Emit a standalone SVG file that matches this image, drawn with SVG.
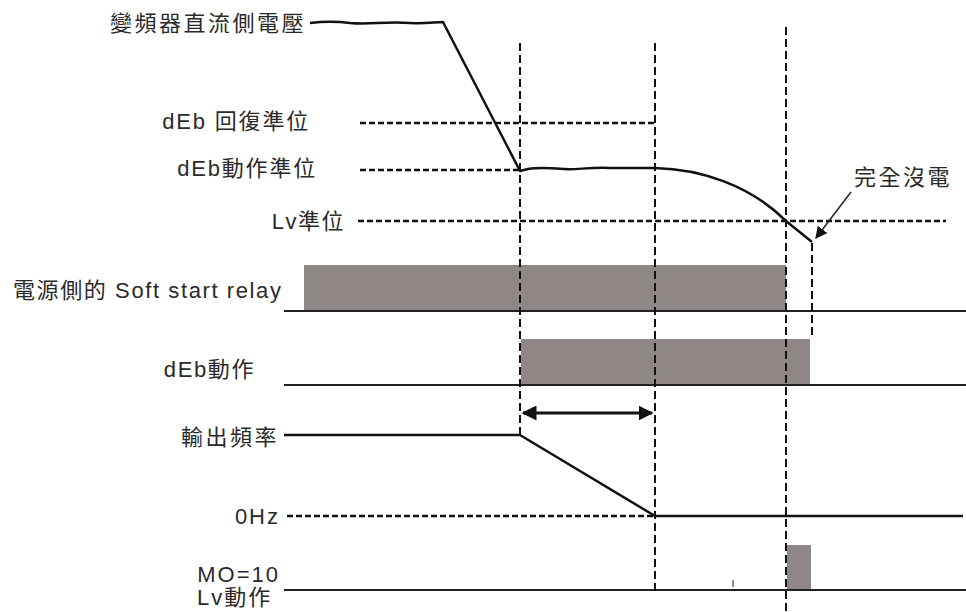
<svg xmlns="http://www.w3.org/2000/svg" width="966" height="612" viewBox="0 0 966 612">
<defs>
<style>
.t{font-family:"Liberation Sans","Noto Sans CJK TC",sans-serif;font-size:22px;fill:#2a2a2a;}
.e{text-anchor:end;}
.s{fill:none;stroke:#111;stroke-width:2.5;stroke-linejoin:round;}
.b{fill:none;stroke:#222;stroke-width:2;}
.hd{fill:none;stroke:#111;stroke-width:2.5;stroke-dasharray:6 3;}
.vd{fill:none;stroke:#111;stroke-width:2;stroke-dasharray:8 4;}
.g{fill:#8f8786;}
</style>
<marker id="ah" viewBox="0 0 10 10" refX="9" refY="5" markerWidth="5" markerHeight="5" orient="auto-start-reverse" markerUnits="strokeWidth">
<path d="M0,0 L10,5 L0,10 z" fill="#111"/>
</marker>
<marker id="ah2" viewBox="0 0 10 10" refX="9" refY="5" markerWidth="8" markerHeight="8" orient="auto" markerUnits="strokeWidth">
<path d="M0,0 L10,5 L0,10 z" fill="#111"/>
</marker>
</defs>
<rect width="966" height="612" fill="#fff"/>

<g id="labels">
<text class="t e" x="306" y="31" letter-spacing="2.5">變頻器直流側電壓</text>
<text class="t e" x="310" y="129" letter-spacing="1.8">dEb 回復準位</text>
<text class="t e" x="317" y="176" letter-spacing="1.8">dEb動作準位</text>
<text class="t e" x="345" y="229" letter-spacing="1.5">Lv準位</text>
<text class="t" x="13" y="298" letter-spacing="1.6">電源側的 Soft start relay</text>
<text class="t e" x="255" y="377" letter-spacing="1.6">dEb動作</text>
<text class="t e" x="279" y="445" letter-spacing="2.5">輸出頻率</text>
<text class="t e" x="280" y="524" letter-spacing="2">0Hz</text>
<text class="t e" x="280" y="582" letter-spacing="2">MO=10</text>
<text class="t" x="197" y="605" letter-spacing="2">Lv動作</text>
<text class="t" x="854" y="185" letter-spacing="2.5">完全沒電</text>
</g>

<g id="bars">
<rect class="g" x="304" y="265" width="482" height="46"/>
<rect class="g" x="521" y="339" width="289" height="46"/>
<rect class="g" x="787" y="545" width="24" height="45"/>
</g>

<g id="baselines">
<line class="b" x1="284" y1="311" x2="966" y2="311" stroke-width="1.5"/>
<line class="b" x1="284" y1="385" x2="966" y2="385"/>
<line class="b" x1="284" y1="590" x2="966" y2="590"/>
<line x1="733" y1="580" x2="733" y2="587" stroke="#444" stroke-width="1.2"/>
</g>

<g id="dashed">
<line class="hd" x1="360" y1="123" x2="655" y2="123"/>
<line class="hd" x1="360" y1="170" x2="520" y2="170"/>
<line class="hd" x1="358" y1="221" x2="946" y2="221"/>
<line class="hd" x1="287" y1="516" x2="655" y2="516"/>
<line class="vd" x1="520" y1="43" x2="520" y2="434"/>
<line class="vd" x1="655" y1="43" x2="655" y2="592"/>
<line class="vd" x1="786" y1="27" x2="786" y2="612"/>
<line class="vd" x1="812" y1="243" x2="812" y2="339"/>
</g>

<g id="connectors">
<path class="s" d="M310,23 C325,21 335,21 350,23 C370,25 385,21 410,23 C425,24 435,22 443,22 L520,171 L528,169 C540,167 550,168 565,169 C575,170 590,167 610,168 L655,168 C700,169 750,185 786,221 L812,242"/>
<path class="s" d="M284,435 L520,435 L655,516 L963,516"/>
<line x1="851" y1="192" x2="816" y2="238" stroke="#222" stroke-width="1.5" marker-end="url(#ah2)"/>
<line x1="523" y1="413" x2="652" y2="413" stroke="#111" stroke-width="3" marker-start="url(#ah)" marker-end="url(#ah)"/>
</g>
</svg>
